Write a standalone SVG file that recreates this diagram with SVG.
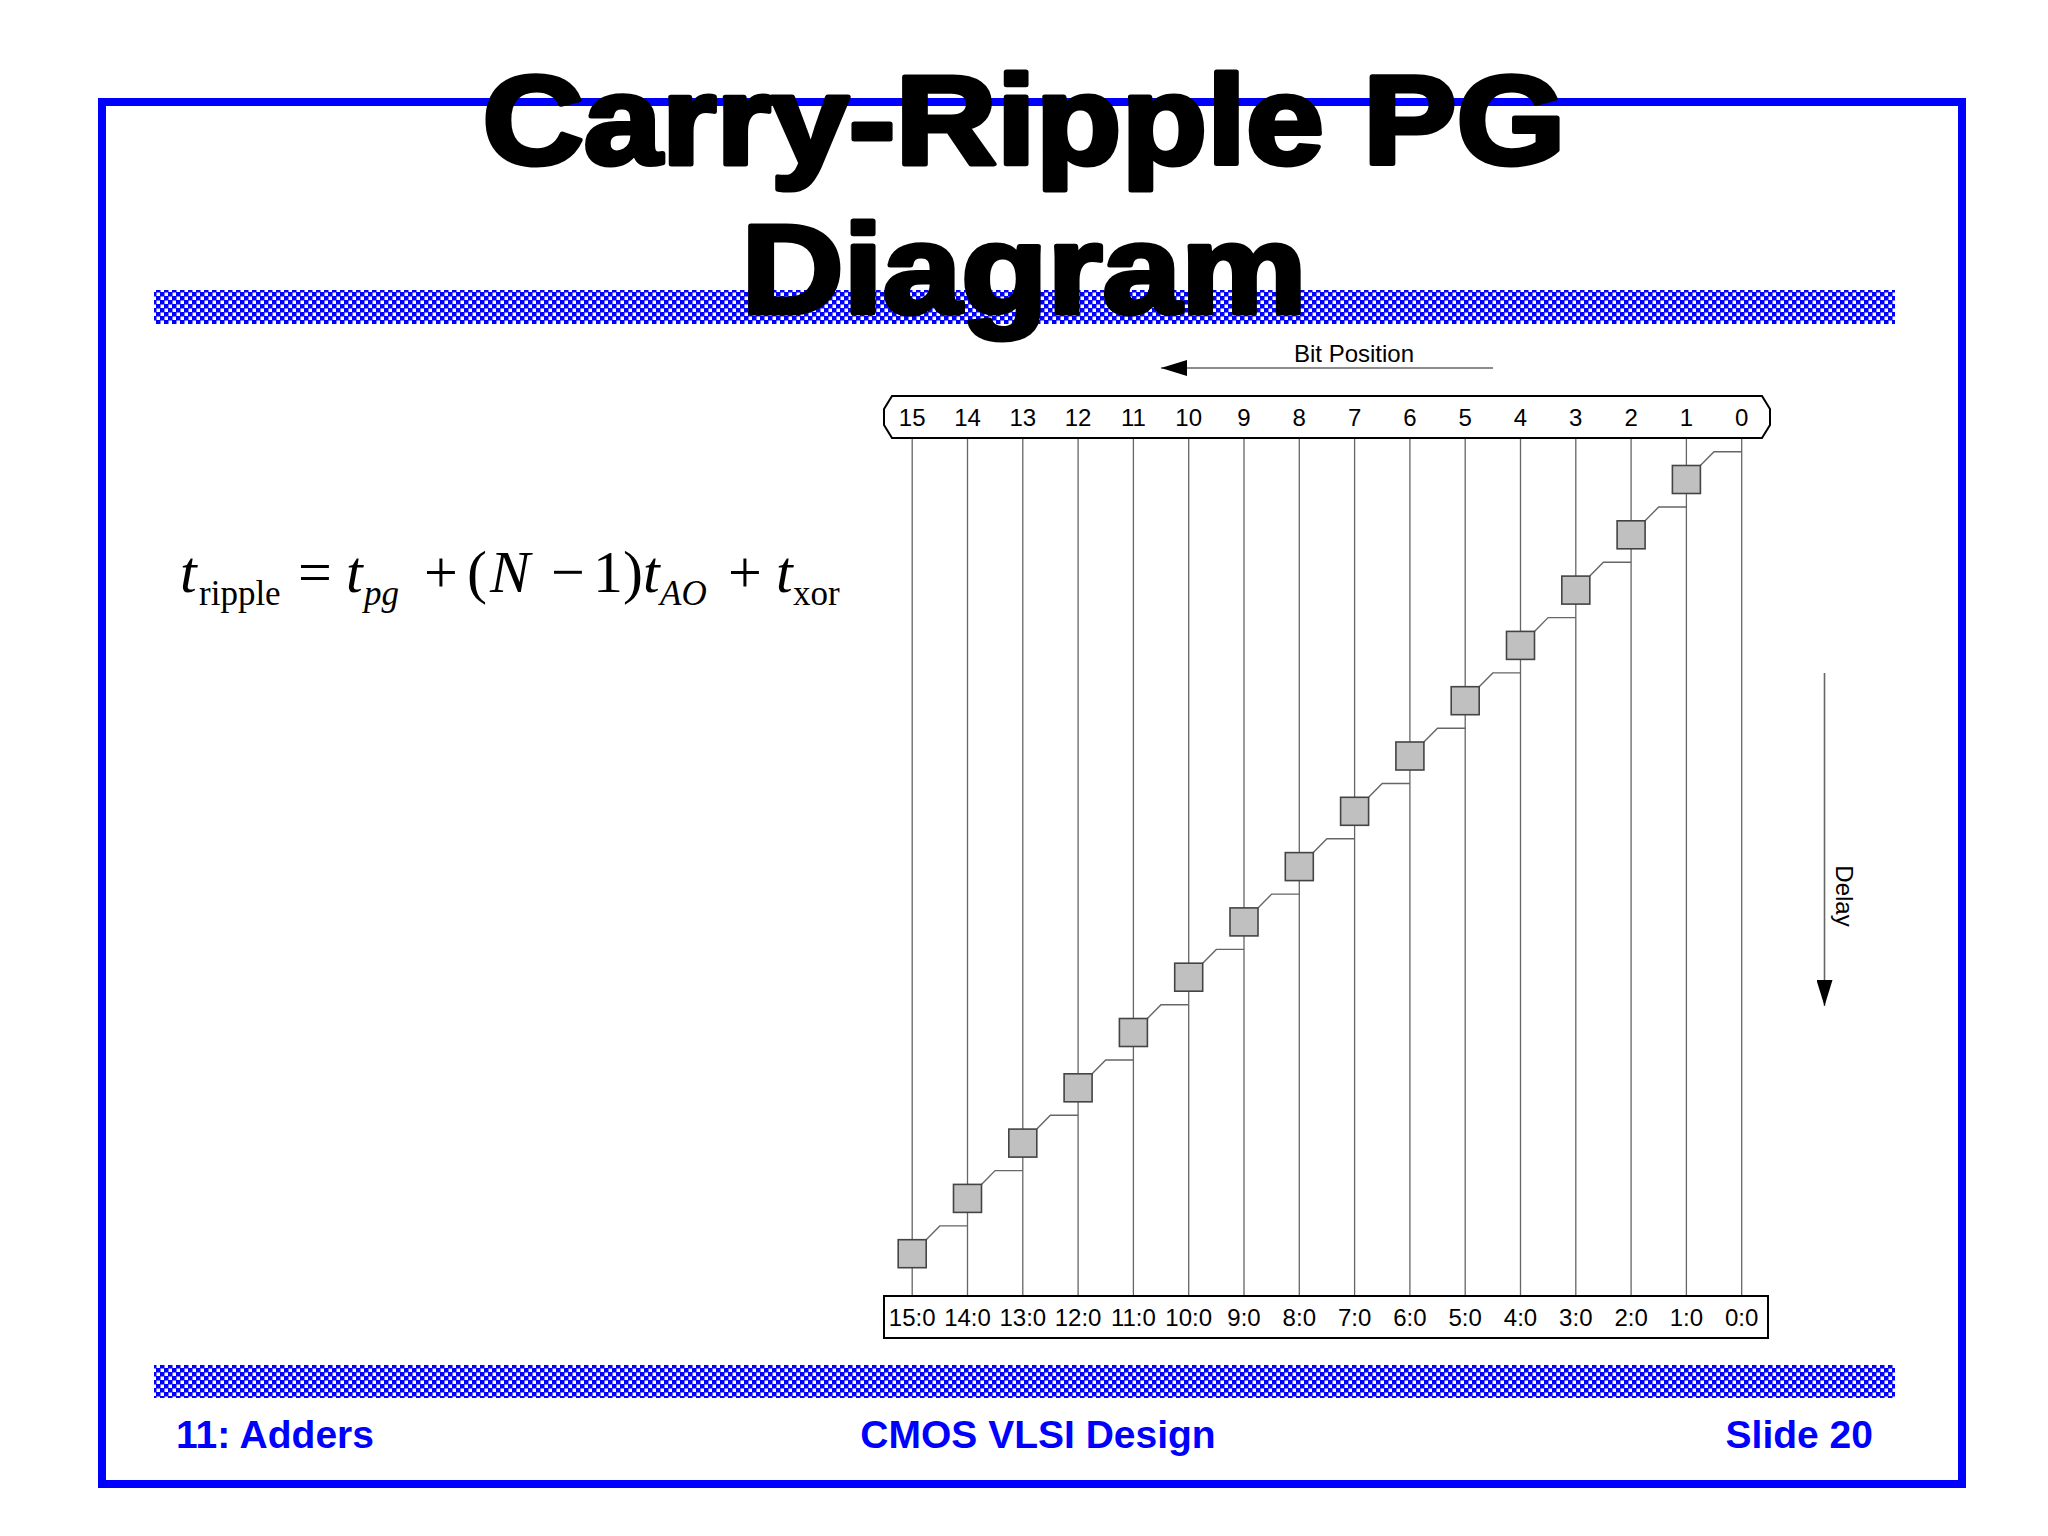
<svg xmlns="http://www.w3.org/2000/svg" width="2048" height="1536" viewBox="0 0 2048 1536">
<defs>
<pattern id="checker" x="0" y="0" width="8" height="8" patternUnits="userSpaceOnUse">
<rect x="0" y="0" width="8" height="8" fill="#0000ff"/>
<rect x="0.5" y="0.5" width="3.5" height="3.5" fill="#ffffff"/>
<rect x="4.5" y="4.5" width="3.5" height="3.5" fill="#ffffff"/>
</pattern>
<marker id="arrowhead" viewBox="0 0 26 16" refX="26" refY="8" markerWidth="26" markerHeight="16" markerUnits="userSpaceOnUse" orient="auto">
<path d="M0 0 L26 8 L0 16 Z" fill="#000000"/>
</marker>
</defs>
<style>
.title{font-family:"Liberation Sans",Arial,sans-serif;font-weight:bold;font-size:126px;fill:#000;stroke:#000;stroke-width:5;stroke-linejoin:round;text-anchor:middle}
.foot{font-family:"Liberation Sans",Arial,sans-serif;font-weight:bold;font-size:39px;fill:#0000ff}
.lbl{font-family:"Liberation Sans",Arial,sans-serif;font-size:24px;fill:#000;text-anchor:middle}
.eq{font-family:"Liberation Serif","Times New Roman",serif;font-size:60px;fill:#000}
.sub{font-family:"Liberation Serif","Times New Roman",serif;font-size:35px;fill:#000}
.it{font-style:italic}
.col{stroke:#666;stroke-width:1.3;fill:none}
.pg{fill:#c0c0c0;stroke:#444;stroke-width:1.6}
.conn{stroke:#666;stroke-width:1.4;fill:none}
.frame{fill:#fff;stroke:#000;stroke-width:2}
.axis{stroke:#666;stroke-width:1.6;fill:none;marker-end:url(#arrowhead)}
</style>
<rect x="0" y="0" width="2048" height="1536" fill="#ffffff"/>
<g id="slide-border">
<rect x="102" y="102" width="1860" height="1382" fill="none" stroke="#0000ff" stroke-width="8"/>
</g>
<g id="bands">
<rect x="154" y="290" width="1741" height="34" fill="url(#checker)"/>
<rect x="154" y="1365" width="1741" height="33" fill="url(#checker)"/>
</g>
<g id="title">
<text class="title" x="1024" y="164" textLength="1083" lengthAdjust="spacingAndGlyphs">Carry-Ripple PG</text>
<text class="title" x="1024" y="313" textLength="565" lengthAdjust="spacingAndGlyphs">Diagram</text>
</g>
<g id="equation">
<text class="eq it" x="180" y="592">t</text>
<text class="sub" x="199" y="605">ripple</text>
<text class="eq" x="298" y="592">=</text>
<text class="eq it" x="346" y="592">t</text>
<text class="sub it" x="364" y="605">pg</text>
<text class="eq" x="424" y="592">+</text>
<text class="eq" x="467" y="592">(</text>
<text class="eq it" x="490" y="592">N</text>
<text class="eq" x="551" y="592">−</text>
<text class="eq" x="593" y="592">1</text>
<text class="eq" x="623" y="592">)</text>
<text class="eq it" x="643" y="592">t</text>
<text class="sub it" x="660" y="605">AO</text>
<text class="eq" x="728" y="592">+</text>
<text class="eq it" x="776" y="592">t</text>
<text class="sub" x="793" y="605">xor</text>
</g>
<g id="bit-position-axis">
<line class="axis" x1="1493" y1="368" x2="1161" y2="368"/>
<text class="lbl" x="1354" y="362">Bit Position</text>
</g>
<g id="delay-axis">
<line class="axis" x1="1824.5" y1="673" x2="1824.5" y2="1006"/>
<text class="lbl" transform="translate(1836,896) rotate(90)">Delay</text>
</g>
<g id="columns">
<path class="col" d="M1741.7 438V1296 M1686.4 438V1296 M1631.1 438V1296 M1575.8 438V1296 M1520.5 438V1296 M1465.2 438V1296 M1409.9 438V1296 M1354.6 438V1296 M1299.3 438V1296 M1244 438V1296 M1188.7 438V1296 M1133.4 438V1296 M1078.1 438V1296 M1022.8 438V1296 M967.5 438V1296 M912.2 438V1296"/>
</g>
<g id="bit-header">
<path class="frame" d="M892 396 H1762 L1770 409 V425 L1762 438 H892 L884 425 V409 Z"/>
<text class="lbl" x="912.2" y="426">15</text>
<text class="lbl" x="967.5" y="426">14</text>
<text class="lbl" x="1022.8" y="426">13</text>
<text class="lbl" x="1078.1" y="426">12</text>
<text class="lbl" x="1133.4" y="426">11</text>
<text class="lbl" x="1188.7" y="426">10</text>
<text class="lbl" x="1244" y="426">9</text>
<text class="lbl" x="1299.3" y="426">8</text>
<text class="lbl" x="1354.6" y="426">7</text>
<text class="lbl" x="1409.9" y="426">6</text>
<text class="lbl" x="1465.2" y="426">5</text>
<text class="lbl" x="1520.5" y="426">4</text>
<text class="lbl" x="1575.8" y="426">3</text>
<text class="lbl" x="1631.1" y="426">2</text>
<text class="lbl" x="1686.4" y="426">1</text>
<text class="lbl" x="1741.7" y="426">0</text>
</g>
<g id="result-row">
<rect class="frame" x="884" y="1296" width="884" height="42"/>
<text class="lbl" x="912.2" y="1326">15:0</text>
<text class="lbl" x="967.5" y="1326">14:0</text>
<text class="lbl" x="1022.8" y="1326">13:0</text>
<text class="lbl" x="1078.1" y="1326">12:0</text>
<text class="lbl" x="1133.4" y="1326">11:0</text>
<text class="lbl" x="1188.7" y="1326">10:0</text>
<text class="lbl" x="1244" y="1326">9:0</text>
<text class="lbl" x="1299.3" y="1326">8:0</text>
<text class="lbl" x="1354.6" y="1326">7:0</text>
<text class="lbl" x="1409.9" y="1326">6:0</text>
<text class="lbl" x="1465.2" y="1326">5:0</text>
<text class="lbl" x="1520.5" y="1326">4:0</text>
<text class="lbl" x="1575.8" y="1326">3:0</text>
<text class="lbl" x="1631.1" y="1326">2:0</text>
<text class="lbl" x="1686.4" y="1326">1:0</text>
<text class="lbl" x="1741.7" y="1326">0:0</text>
</g>
<g id="connectors">
<path class="conn" d="M1700.4 465.5 L1714 451.7 H1741.7"/>
<path class="conn" d="M1645.1 520.8 L1658.7 507 H1686.4"/>
<path class="conn" d="M1589.8 576.1 L1603.4 562.3 H1631.1"/>
<path class="conn" d="M1534.5 631.4 L1548.1 617.6 H1575.8"/>
<path class="conn" d="M1479.2 686.7 L1492.8 672.9 H1520.5"/>
<path class="conn" d="M1423.9 742 L1437.5 728.2 H1465.2"/>
<path class="conn" d="M1368.6 797.3 L1382.2 783.5 H1409.9"/>
<path class="conn" d="M1313.3 852.6 L1326.9 838.8 H1354.6"/>
<path class="conn" d="M1258 907.9 L1271.6 894.1 H1299.3"/>
<path class="conn" d="M1202.7 963.2 L1216.3 949.4 H1244"/>
<path class="conn" d="M1147.4 1018.5 L1161 1004.7 H1188.7"/>
<path class="conn" d="M1092.1 1073.8 L1105.7 1060 H1133.4"/>
<path class="conn" d="M1036.8 1129.1 L1050.4 1115.3 H1078.1"/>
<path class="conn" d="M981.5 1184.4 L995.1 1170.6 H1022.8"/>
<path class="conn" d="M926.2 1239.7 L939.8 1225.9 H967.5"/>
</g>
<g id="pg-1"><rect class="pg" x="1672.4" y="465.5" width="28" height="28"/></g>
<g id="pg-2"><rect class="pg" x="1617.1" y="520.8" width="28" height="28"/></g>
<g id="pg-3"><rect class="pg" x="1561.8" y="576.1" width="28" height="28"/></g>
<g id="pg-4"><rect class="pg" x="1506.5" y="631.4" width="28" height="28"/></g>
<g id="pg-5"><rect class="pg" x="1451.2" y="686.7" width="28" height="28"/></g>
<g id="pg-6"><rect class="pg" x="1395.9" y="742" width="28" height="28"/></g>
<g id="pg-7"><rect class="pg" x="1340.6" y="797.3" width="28" height="28"/></g>
<g id="pg-8"><rect class="pg" x="1285.3" y="852.6" width="28" height="28"/></g>
<g id="pg-9"><rect class="pg" x="1230" y="907.9" width="28" height="28"/></g>
<g id="pg-10"><rect class="pg" x="1174.7" y="963.2" width="28" height="28"/></g>
<g id="pg-11"><rect class="pg" x="1119.4" y="1018.5" width="28" height="28"/></g>
<g id="pg-12"><rect class="pg" x="1064.1" y="1073.8" width="28" height="28"/></g>
<g id="pg-13"><rect class="pg" x="1008.8" y="1129.1" width="28" height="28"/></g>
<g id="pg-14"><rect class="pg" x="953.5" y="1184.4" width="28" height="28"/></g>
<g id="pg-15"><rect class="pg" x="898.2" y="1239.7" width="28" height="28"/></g>
<g id="footer">
<text class="foot" x="176" y="1448">11: Adders</text>
<text class="foot" x="1038" y="1448" text-anchor="middle">CMOS VLSI Design</text>
<text class="foot" x="1873" y="1448" text-anchor="end">Slide 20</text>
</g>
</svg>
